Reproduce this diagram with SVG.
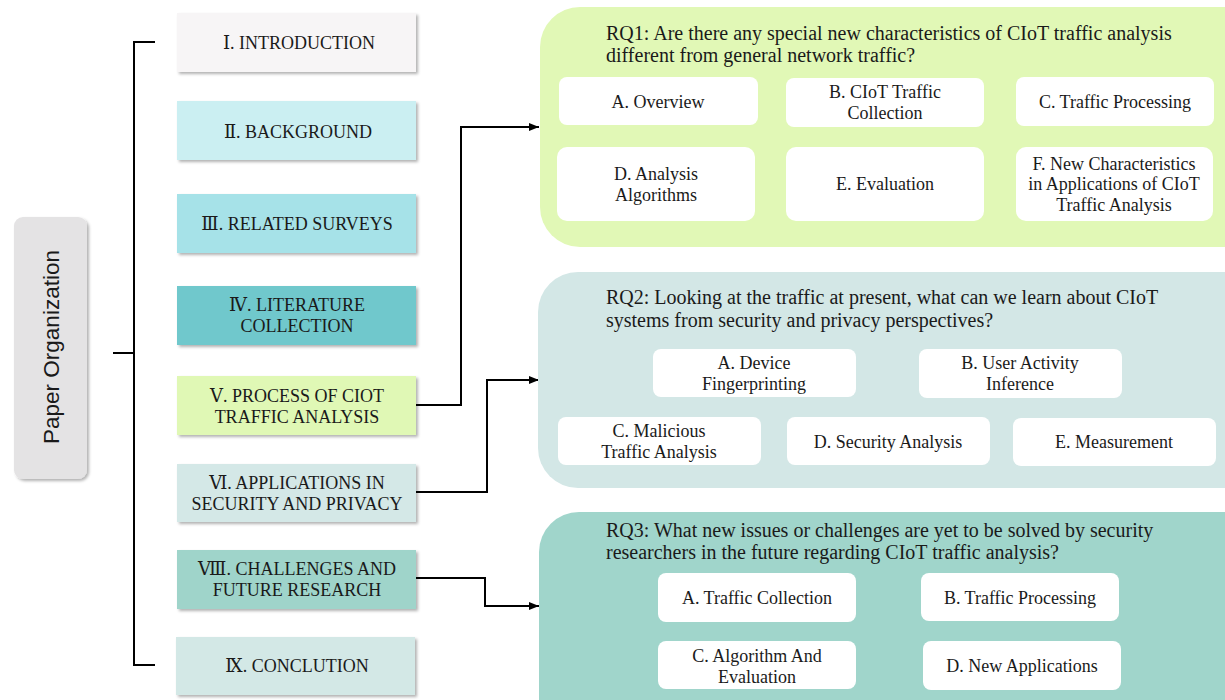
<svg xmlns="http://www.w3.org/2000/svg" width="1225" height="700" viewBox="0 0 1225 700">
<defs>
<filter id="sh" x="-10%" y="-20%" width="130%" height="150%">
<feDropShadow dx="2" dy="2" stdDeviation="1.5" flood-color="#000" flood-opacity="0.3"/>
</filter>
<marker id="arr" markerWidth="10" markerHeight="8" refX="10" refY="4" orient="auto" markerUnits="userSpaceOnUse">
<path d="M0,0 L10,4 L0,8 Z" fill="#000"/>
</marker>
</defs>
<style>
.sec{font-family:"Liberation Serif","DejaVu Serif",serif;font-size:18px;fill:#1a1a1a;text-anchor:middle}
.ttl{font-family:"Liberation Serif","DejaVu Serif",serif;font-size:20px;fill:#1a1a1a}
.it{font-family:"Liberation Serif","DejaVu Serif",serif;font-size:18px;fill:#1a1a1a;text-anchor:middle}
.wb{fill:#ffffff}
.ln{fill:none;stroke:#000;stroke-width:2}
</style>
<rect width="1225" height="700" fill="#ffffff"/>

<g id="paper-organization">
<rect x="14" y="217" width="73" height="262" rx="9" fill="#e4e3e4" filter="url(#sh)"/>
<text transform="translate(59,347) rotate(-90)" text-anchor="middle" font-family="Liberation Sans, Arial, sans-serif" font-size="22.5" fill="#1a1a1a">Paper Organization</text>
</g>

<g id="connectors">
<path class="ln" d="M155,42 H134 V665 H155"/>
<path class="ln" d="M113,353 H134"/>
<path class="ln" d="M416,405 H461 V127 H539" marker-end="url(#arr)"/>
<path class="ln" d="M416,492 H487 V380 H539" marker-end="url(#arr)"/>
<path class="ln" d="M416,578 H485 V606 H539" marker-end="url(#arr)"/>
</g>

<g id="sec1"><rect x="177" y="13" width="239" height="59" fill="#f7f5f6" filter="url(#sh)"/><text class="sec" x="299" y="49">Ⅰ. INTRODUCTION</text></g>
<g id="sec2"><rect x="177" y="101" width="239" height="59" fill="#cbeff2" filter="url(#sh)"/><text class="sec" x="298" y="138">Ⅱ. BACKGROUND</text></g>
<g id="sec3"><rect x="177" y="194" width="239" height="59" fill="#a6e2e8" filter="url(#sh)"/><text class="sec" x="297" y="230">Ⅲ. RELATED SURVEYS</text></g>
<g id="sec4"><rect x="177" y="286" width="239" height="59" fill="#6fc8cc" filter="url(#sh)"/><text class="sec" x="297" y="311">Ⅳ. LITERATURE</text><text class="sec" x="297" y="332">COLLECTION</text></g>
<g id="sec5"><rect x="177" y="376" width="239" height="59" fill="#e0f8b5" filter="url(#sh)"/><text class="sec" x="297" y="402">Ⅴ. PROCESS OF CIOT</text><text class="sec" x="297" y="423">TRAFFIC ANALYSIS</text></g>
<g id="sec6"><rect x="177" y="464" width="239" height="58" fill="#d4e8e7" filter="url(#sh)"/><text class="sec" x="297" y="489">Ⅵ. APPLICATIONS IN</text><text class="sec" x="297" y="510">SECURITY AND PRIVACY</text></g>
<g id="sec8"><rect x="177" y="550" width="239" height="59" fill="#9fd4ca" filter="url(#sh)"/><text class="sec" x="297" y="575">Ⅷ. CHALLENGES AND</text><text class="sec" x="297" y="596">FUTURE RESEARCH</text></g>
<g id="sec9"><rect x="176" y="637" width="239" height="58" fill="#d3e8e6" filter="url(#sh)"/><text class="sec" x="297" y="672">Ⅸ. CONCLUTION</text></g>

<g id="rq1">
<rect x="540" y="7" width="725" height="240" rx="40" fill="#e1f8b6"/>
<text class="ttl" x="606" y="40">RQ1: Are there any special new characteristics of CIoT traffic analysis</text>
<text class="ttl" x="606" y="62">different from general network traffic?</text>
<rect class="wb" x="559" y="77" width="199" height="48" rx="8"/><text class="it" x="658" y="108">A. Overview</text>
<rect class="wb" x="786" y="78" width="198" height="49" rx="8"/><text class="it" x="885" y="98">B. CIoT Traffic</text><text class="it" x="885" y="119">Collection</text>
<rect class="wb" x="1016" y="77" width="198" height="49" rx="8"/><text class="it" x="1115" y="108">C. Traffic Processing</text>
<rect class="wb" x="557" y="147" width="198" height="74" rx="10"/><text class="it" x="656" y="180">D. Analysis</text><text class="it" x="656" y="201">Algorithms</text>
<rect class="wb" x="786" y="147" width="198" height="74" rx="10"/><text class="it" x="885" y="190">E. Evaluation</text>
<rect class="wb" x="1016" y="147" width="197" height="74" rx="10"/><text class="it" x="1114" y="170">F. New Characteristics</text><text class="it" x="1114" y="190">in Applications of CIoT</text><text class="it" x="1114" y="211">Traffic Analysis</text>
</g>

<g id="rq2">
<rect x="538" y="272" width="727" height="216" rx="40" fill="#d3e7e6"/>
<text class="ttl" x="606" y="304">RQ2: Looking at the traffic at present, what can we learn about CIoT</text>
<text class="ttl" x="606" y="327">systems from security and privacy perspectives?</text>
<rect class="wb" x="653" y="349" width="203" height="48" rx="8"/><text class="it" x="754" y="369">A. Device</text><text class="it" x="754" y="390">Fingerprinting</text>
<rect class="wb" x="919" y="349" width="203" height="49" rx="8"/><text class="it" x="1020" y="369">B. User Activity</text><text class="it" x="1020" y="390">Inference</text>
<rect class="wb" x="558" y="417" width="203" height="48" rx="8"/><text class="it" x="659" y="437">C. Malicious</text><text class="it" x="659" y="458">Traffic Analysis</text>
<rect class="wb" x="787" y="417" width="203" height="48" rx="8"/><text class="it" x="888" y="448">D. Security Analysis</text>
<rect class="wb" x="1013" y="418" width="203" height="48" rx="8"/><text class="it" x="1114" y="448">E. Measurement</text>
</g>

<g id="rq3">
<rect x="539" y="512" width="726" height="230" rx="40" fill="#a0d5cb"/>
<text class="ttl" x="606" y="537">RQ3: What new issues or challenges are yet to be solved by security</text>
<text class="ttl" x="606" y="559">researchers in the future regarding CIoT traffic analysis?</text>
<rect class="wb" x="658" y="573" width="198" height="49" rx="8"/><text class="it" x="757" y="604">A. Traffic Collection</text>
<rect class="wb" x="921" y="573" width="198" height="48" rx="8"/><text class="it" x="1020" y="604">B. Traffic Processing</text>
<rect class="wb" x="658" y="641" width="198" height="48" rx="8"/><text class="it" x="757" y="662">C. Algorithm And</text><text class="it" x="757" y="683">Evaluation</text>
<rect class="wb" x="923" y="641" width="198" height="49" rx="8"/><text class="it" x="1022" y="672">D. New Applications</text>
</g>
</svg>
